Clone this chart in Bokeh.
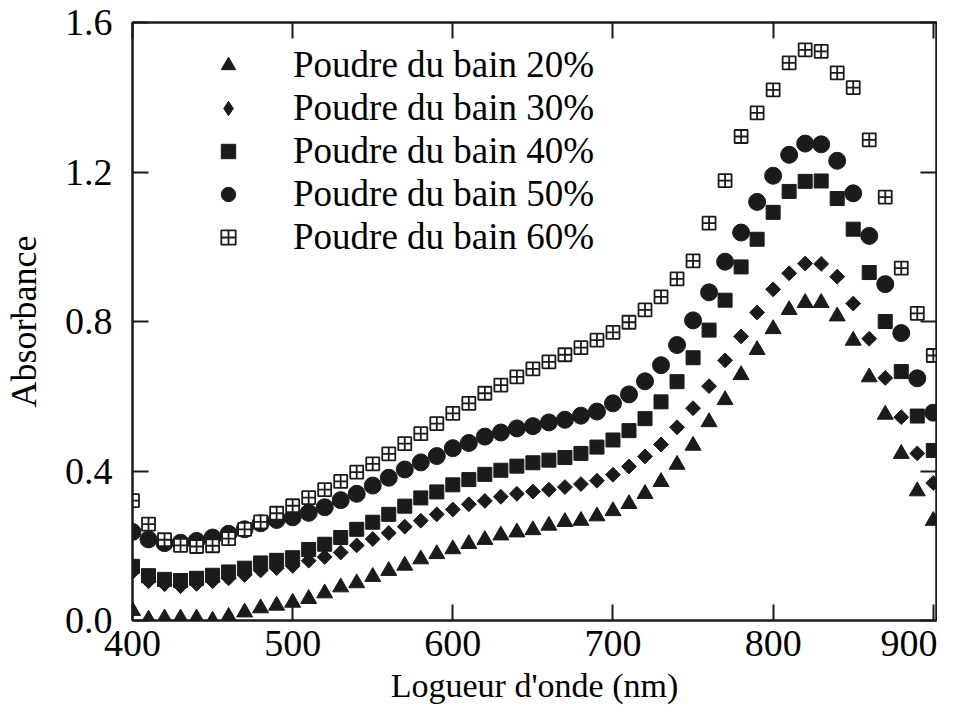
import math
from bokeh.plotting import figure
from bokeh.models import (Range1d, FixedTicker, LinearAxis, Legend, LegendItem,
                          NumeralTickFormatter)
from bokeh.embed import file_html
from bokeh.resources import INLINE

# ---------------- data ----------------
wavelength = list(range(400, 901, 10))

abs_20 = [0.026, 0.003, 0.006, 0.006, 0.006, 0.0, 0.01, 0.022, 0.033, 0.04,
          0.048, 0.058, 0.073, 0.089, 0.1, 0.117, 0.133, 0.147, 0.164, 0.178,
          0.191, 0.205, 0.216, 0.228, 0.236, 0.242, 0.254, 0.264, 0.267, 0.279,
          0.293, 0.312, 0.339, 0.371, 0.417, 0.468, 0.531, 0.59, 0.657, 0.724,
          0.78, 0.831, 0.85, 0.85, 0.814, 0.749, 0.651, 0.551, 0.446, 0.346,
          0.267]

abs_30 = [0.13, 0.105, 0.097, 0.092, 0.098, 0.105, 0.113, 0.122, 0.134, 0.14,
          0.146, 0.16, 0.17, 0.182, 0.201, 0.218, 0.234, 0.251, 0.267, 0.284,
          0.297, 0.311, 0.32, 0.331, 0.339, 0.345, 0.35, 0.357, 0.365, 0.374,
          0.39, 0.412, 0.439, 0.471, 0.517, 0.568, 0.627, 0.696, 0.76, 0.824,
          0.886, 0.929, 0.955, 0.954, 0.92, 0.848, 0.754, 0.649, 0.544, 0.447,
          0.368]

abs_40 = [0.145, 0.12, 0.11, 0.107, 0.113, 0.121, 0.13, 0.14, 0.154, 0.161,
          0.168, 0.19, 0.204, 0.222, 0.244, 0.263, 0.284, 0.306, 0.328, 0.344,
          0.363, 0.377, 0.391, 0.402, 0.413, 0.422, 0.429, 0.436, 0.447, 0.464,
          0.483, 0.508, 0.54, 0.585, 0.639, 0.703, 0.777, 0.857, 0.946, 1.02,
          1.092, 1.148, 1.175, 1.176, 1.129, 1.047, 0.931, 0.80, 0.666, 0.547,
          0.455]

abs_50 = [0.237, 0.217, 0.207, 0.208, 0.213, 0.222, 0.232, 0.244, 0.26, 0.269,
          0.276, 0.288, 0.303, 0.322, 0.339, 0.361, 0.382, 0.404, 0.423, 0.44,
          0.461, 0.475, 0.492, 0.503, 0.514, 0.52, 0.53, 0.537, 0.548, 0.559,
          0.581, 0.605, 0.64, 0.683, 0.737, 0.803, 0.878, 0.96, 1.038, 1.12,
          1.19, 1.246, 1.276, 1.274, 1.23, 1.143, 1.029, 0.90, 0.769, 0.648,
          0.556]

abs_60 = [0.321, 0.258, 0.216, 0.201, 0.198, 0.2, 0.219, 0.244, 0.264, 0.287,
          0.307, 0.329, 0.35, 0.372, 0.397, 0.419, 0.446, 0.473, 0.5, 0.527,
          0.554, 0.581, 0.608, 0.63, 0.652, 0.673, 0.692, 0.711, 0.73, 0.75,
          0.771, 0.798, 0.831, 0.866, 0.914, 0.962, 1.063, 1.177, 1.295, 1.358,
          1.42, 1.492, 1.527, 1.523, 1.465, 1.426, 1.286, 1.133, 0.943, 0.822,
          0.709]

series_labels = ["Poudre du bain 20%", "Poudre du bain 30%", "Poudre du bain 40%",
                 "Poudre du bain 50%", "Poudre du bain 60%"]
x_ticks = [400, 500, 600, 700, 800, 900]
y_ticks = [0.0, 0.4, 0.8, 1.2, 1.6]
x_title = "Logueur d'onde (nm)"
y_title = "Absorbance"

# ---------------- figure ----------------
FONT = "Liberation Serif"
INK = "#1b1b1b"

p = figure(width=937, height=707,
           x_range=Range1d(400, 902), y_range=Range1d(0, 1.6),
           output_backend="svg", toolbar_location=None,
           min_border_left=130, min_border_right=1,
           min_border_top=22, min_border_bottom=87)
p.xgrid.visible = False
p.ygrid.visible = False
p.outline_line_color = INK
p.outline_line_width = 2
p.background_fill_color = "white"
p.border_fill_color = "white"


def style_axis(ax, ticks, show_labels):
    ax.ticker = FixedTicker(ticks=ticks)
    ax.major_tick_in = 16
    ax.major_tick_out = 0
    ax.minor_tick_line_color = None
    ax.major_tick_line_width = 2
    ax.major_tick_line_color = INK
    ax.axis_line_width = 2
    ax.axis_line_color = INK
    ax.major_label_text_font = FONT
    if show_labels:
        ax.major_label_text_color = "black"
        ax.major_label_text_font_size = "38px"
    else:
        # mirror axis: tick marks only, labels not drawn at all
        ax.major_label_text_color = None
        ax.major_label_text_font_size = "0px"
        ax.major_label_standoff = 0


xa = p.xaxis[0]
style_axis(xa, x_ticks, True)
xa.major_label_standoff = 10
xa.axis_label = x_title
xa.axis_label_text_font = FONT
xa.axis_label_text_font_size = "34px"
xa.axis_label_text_font_style = "normal"
xa.axis_label_text_color = "black"
xa.axis_label_standoff = 8

ya = p.yaxis[0]
style_axis(ya, y_ticks, True)
ya.formatter = NumeralTickFormatter(format="0.0")
ya.major_label_standoff = 20
ya.axis_label = y_title
ya.axis_label_text_font = FONT
ya.axis_label_text_font_size = "36px"
ya.axis_label_text_font_style = "normal"
ya.axis_label_text_color = "black"
ya.axis_label_standoff = 18

top_ax = LinearAxis()
style_axis(top_ax, x_ticks, False)
p.add_layout(top_ax, "above")
right_ax = LinearAxis()
style_axis(right_ax, y_ticks, False)
p.add_layout(right_ax, "right")

# ---------------- markers ----------------
r20 = p.scatter(wavelength, abs_20, marker="triangle", size=16,
                fill_color=INK, line_color=INK)
# legend key for the 30 % series (small diamonds hidden under the tilted squares)
r30_key = p.scatter(wavelength, abs_30, marker="diamond", size=8,
                    fill_color=INK, line_color=INK)
r30 = p.scatter(wavelength, abs_30, marker="square", size=10.5, angle=math.pi / 4,
                fill_color=INK, line_color=INK)
r40 = p.scatter(wavelength, abs_40, marker="square", size=14,
                fill_color=INK, line_color=INK)
r50 = p.scatter(wavelength, abs_50, marker="circle", size=17,
                fill_color=INK, line_color=INK)
r60 = p.scatter(wavelength, abs_60, marker="square_cross", size=13,
                fill_color="white", line_color=INK, line_width=1.8)

key_renderers = [r20, r30_key, r40, r50, r60]
legend = Legend(items=[LegendItem(label=lab, renderers=[r])
                       for lab, r in zip(series_labels, key_renderers)],
                location=(78, 362), orientation="vertical",
                label_text_font=FONT, label_text_font_size="37px",
                label_text_color="black",
                glyph_width=36, glyph_height=36, label_height=36,
                spacing=0, padding=0, margin=0, label_standoff=47,
                border_line_color=None, background_fill_alpha=0)
p.add_layout(legend)

open("out.html", "w").write(file_html(p, INLINE))
